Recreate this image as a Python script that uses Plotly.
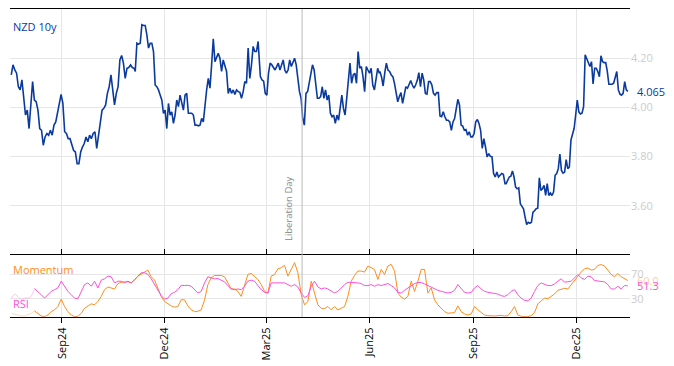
import pandas as pd
import plotly.graph_objects as go

# ---------------- data ----------------
# NZD 10y yield in five consecutive stretches
nzd_seg1 = [4.132,4.173,4.152,4.139,4.084,4.071,4.112,4.050,3.969,3.989,
            3.914,4.010,4.105,4.030,4.023,3.989,3.914,3.907,3.846,3.880,
            3.894,3.887,3.907,3.887,3.928,3.941,3.982,4.010,4.053,4.016,
            3.901,3.894,3.873,3.873,3.853,3.826,3.819,3.771,3.771,3.819,
            3.839,3.853,3.880,3.860,3.887,3.873,3.894,3.901,3.833,3.880,
            3.935,3.989,3.996,4.010,4.057,4.084,4.132,4.078,4.010,4.057,
            4.084,4.193,4.211,4.180,4.118,4.159,4.162,4.173,4.162,4.159]
nzd_seg2 = [4.146,4.261,4.257,4.261,4.336,4.333,4.333,4.295,4.241,4.261,
            4.261,4.227,4.091,4.084,4.071,4.050,4.030,3.976,3.989,3.914,
            4.016,3.969,3.982,3.935,3.969,4.030,4.003,4.050,4.023,3.989,
            4.050,4.057,3.976,3.976,3.976,3.969,3.928,3.928,3.925,3.928,3.955,
            3.941,4.023,4.071,4.118,4.078,4.173,4.279,4.186,4.200,4.220,
            4.200,4.146,4.193,4.173,4.146,4.057,4.078,4.057,4.071,4.053,
            4.071,4.064,4.061,4.037,4.064,4.105,4.098,4.241,4.118,4.173,
            4.248,4.227,4.227,4.268]
nzd_seg3 = [4.125,4.112,4.107,4.057,4.050,4.139,4.180,4.173,4.159,4.152,
            4.166,4.180,4.152,4.173,4.193,4.152,4.139,4.152,4.193,4.166,
            4.186,4.200,4.173,4.112,4.064,4.037,3.955,3.928,4.057,4.064,
            4.098,4.132,4.173,4.152,4.091,4.037,4.037,4.044,4.084,4.037,
            4.071,4.030,4.050,3.976,3.962,3.969,3.935,3.969,3.948,4.010,
            4.050,3.996,3.969,4.037,4.098,4.180,4.098,4.132,4.139,4.098,
            4.227,4.159,4.166,4.125,4.064,4.166,4.152,4.139,4.159,4.091,
            4.071,4.112,4.159,4.139]
nzd_seg4 = [4.146,4.125,4.087,4.139,4.180,4.152,4.146,4.132,4.125,4.098,
            4.050,4.023,4.044,4.060,4.016,4.044,4.084,4.078,4.098,4.109,
            4.091,4.078,4.091,4.109,4.141,4.084,4.139,4.112,4.057,4.054,
            4.105,4.105,4.091,4.057,4.050,4.060,4.060,3.965,3.962,3.982,
            3.962,3.948,3.948,3.941,3.907,3.941,3.955,4.003,4.033,4.010,
            3.928,3.924,3.907,3.910,3.887,3.901,3.880,3.880,3.894,3.941,
            3.951,3.935,3.907,3.833,3.873,3.839,3.799,3.812,3.801,3.799,
            3.731,3.717,3.737,3.717,3.724,3.731,3.728,3.690]
nzd_seg5 = [3.690,3.703,3.717,3.720,3.742,3.717,3.676,3.669,3.673,3.608,
            3.595,3.588,3.554,3.524,3.533,3.529,3.533,3.574,3.580,3.588,
            3.590,3.714,3.663,3.669,3.683,3.642,3.690,3.642,3.652,3.642,
            3.656,3.724,3.731,3.751,3.810,3.744,3.733,3.737,3.788,3.751,
            3.758,3.867,3.891,3.914,3.969,4.030,3.982,3.973,3.976,4.003,
            4.214,4.200,4.182,4.166,4.186,4.095,4.159,4.159,4.146,4.125,
            4.210,4.186,4.182,4.182,4.146,4.094,4.094,4.094,4.098,4.118,
            4.146,4.071,4.054,4.050,4.057,4.105,4.071,4.065]
nzd_segments = [nzd_seg1, nzd_seg2, nzd_seg3, nzd_seg4, nzd_seg5]
seg_starts = ["2024-07-18", "2024-11-05", "2025-02-24", "2025-06-10", "2025-09-30"]
seg_ends = ["2024-11-04", "2025-02-22", "2025-06-09 12:00", "2025-09-29", "2026-01-16"]

# Indicators (0-100 scale), evenly spaced over the same period
ind_start, ind_end = "2024-07-18", "2026-01-16"
warmup_points = 8
rsi = [31.1,37.8,33.9,28.3,31.1,31.1,33.9,
       46.7,42.2,36.7,31.1,36.7,42.2,45.0,47.8,58.9,50.6,
       42.2,36.7,31.1,30.0,42.2,53.3,56.1,50.6,58.9,47.8,
       60.6,62.8,67.2,66.1,56.1,58.9,58.9,56.1,58.9,56.1,
       61.7,67.2,72.8,72.8,70.0,62.8,53.3,43.9,35.0,29.4,
       31.1,38.3,40.6,45.0,52.2,51.7,52.2,50.6,45.0,39.4,
       42.2,56.1,66.1,64.4,62.8,63.3,60.6,57.8,51.7,46.1,
       45.0,46.1,45.0,50.6,58.9,
       60.6,58.9,51.7,45.0,40.6,39.4,56.1,56.1,56.1,56.1,
       56.1,53.3,50.6,53.3,49.4,39.4,32.2,35.0,50.6,58.9,
       49.4,46.1,47.8,46.1,42.2,39.4,42.2,47.8,53.3,57.2,
       57.2,56.1,56.1,55.0,51.7,51.7,53.3,50.6,53.3,51.7,
       53.3,55.0,51.7,47.8,40.6,39.4,43.9,47.8,51.7,55.0,
       56.7,56.7,54.4,51.7,49.4,46.1,43.9,42.2,40.6,39.4,
       40.6,43.9,53.3,46.1,40.6,39.4,40.6,47.8,51.7,
       46.1,42.2,40.6,39.4,39.4,37.8,35.0,33.9,36.7,42.2,
       45.0,36.7,31.1,27.2,26.7,31.1,42.2,51.7,56.1,54.4,
       51.7,51.7,54.4,58.9,62.8,57.2,57.8,58.9,64.4,70.0,
       64.4,61.7,67.2,66.1,60.0,58.9,58.9,57.8,53.3,46.1,
       46.1,50.6,46.1,51.7,51.3]
momentum = [6.1,4.4,3.3,1.7,1.7,3.3,6.1,
            10.0,6.1,1.7,0.6,3.3,8.9,11.7,17.2,29.4,17.2,
            8.9,3.3,0.6,1.1,6.1,14.4,18.3,21.7,20.0,25.6,
            33.9,45.0,49.4,47.8,46.1,55.0,57.2,57.8,57.8,56.1,
            60.6,67.2,70.0,73.9,77.2,66.1,60.6,47.8,33.9,25.6,
            21.7,18.3,16.1,17.2,28.3,28.3,18.3,11.7,8.9,9.4,
            11.7,28.3,53.3,64.4,68.3,68.3,68.3,66.1,56.1,46.1,
            46.1,42.2,33.9,53.3,70.0,
            71.7,67.2,61.7,53.3,42.2,39.4,67.2,70.0,79.4,81.1,
            85.0,67.2,78.3,89.4,72.8,36.7,20.0,25.6,58.9,39.4,
            20.0,14.4,13.9,17.2,11.7,17.2,11.7,14.4,17.2,33.9,
            58.9,68.3,75.6,75.6,73.9,83.9,81.1,78.3,61.7,78.3,
            70.0,83.9,86.7,75.6,39.4,32.8,29.4,33.9,58.9,42.2,
            58.9,78.3,78.3,39.4,47.8,28.3,20.0,14.4,8.9,6.1,
            6.1,7.2,18.3,8.9,5.0,3.3,5.0,17.2,11.7,
            7.2,3.3,2.2,1.7,1.7,2.2,2.8,1.7,2.2,8.9,
            17.2,3.3,1.1,0.6,0.6,2.2,7.2,21.7,26.7,31.1,
            30.0,33.9,37.8,43.9,45.0,47.2,46.1,53.3,60.6,66.1,
            73.9,79.4,80.6,77.2,78.3,85.0,86.1,83.9,77.2,70.0,
            66.1,71.7,66.1,62.8,60.0]

tick_dates = ["2024-09-01", "2024-12-01", "2025-03-01", "2025-06-01", "2025-09-01", "2025-12-01"]
main_ticks = [3.6, 3.8, 4.0, 4.2]
ind_ticks = [30, 70]
event_date = "2025-04-02"
event_label = "Liberation Day"
x_range = ["2024-07-16 21:36", "2026-01-17 21:36"]

# ---------------- build ----------------
nzd_dates, nzd = [], []
for vals, s, e in zip(nzd_segments, seg_starts, seg_ends):
    nzd_dates.extend(pd.date_range(s, e, periods=len(vals)))
    nzd.extend(vals)
ind_dates = pd.date_range(ind_start, ind_end, periods=len(rsi))

BLUE = "#0b3a9f"
ORANGE = "#ff8c1a"
MAGENTA = "#ff4fd8"
GRID = "#e6e6e6"
TICKGREY = "#cccccc"
FONT = "Open Sans"

fig = go.Figure()
fig.add_trace(go.Scatter(x=nzd_dates, y=nzd, mode="lines",
                         line=dict(color=BLUE, width=1.6),
                         xaxis="x", yaxis="y", showlegend=False, hoverinfo="skip"))
w = warmup_points
for series, col in [(momentum, ORANGE), (rsi, MAGENTA)]:
    fig.add_trace(go.Scatter(x=ind_dates[:w], y=series[:w], mode="lines",
                             line=dict(color=col, width=1), opacity=0.3,
                             xaxis="x2", yaxis="y2", showlegend=False, hoverinfo="skip"))
    fig.add_trace(go.Scatter(x=ind_dates[w - 1:], y=series[w - 1:], mode="lines",
                             line=dict(color=col, width=1),
                             xaxis="x2", yaxis="y2", showlegend=False, hoverinfo="skip"))

split = 62 / 308
fig.update_layout(
    width=666, height=358,
    margin=dict(l=2, r=44, t=1, b=49, autoexpand=False),
    paper_bgcolor="white", plot_bgcolor="white",
    font=dict(family=FONT, size=11, color="black"),
    xaxis=dict(domain=[0, 1], anchor="y", side="top", range=x_range,
               showline=True, linecolor="black", linewidth=1,
               showticklabels=False, ticks="", tickvals=tick_dates,
               showgrid=True, gridcolor=GRID, zeroline=False),
    yaxis=dict(domain=[split, 1], anchor="x", side="right", range=[3.4, 4.4],
               tickvals=main_ticks, ticktext=[f"{v:.2f}" for v in main_ticks],
               tickfont=dict(color=TICKGREY, size=11, family=FONT),
               showgrid=True, gridcolor=GRID, zeroline=False, showline=False, ticks=""),
    xaxis2=dict(domain=[0, 1], anchor="y2", range=x_range,
                showline=True, mirror="ticks", linecolor="black", linewidth=1,
                ticks="outside", ticklen=5, tickcolor="black", tickwidth=1,
                tickvals=tick_dates, tickformat="%b%y", tickangle=-90,
                tickfont=dict(size=11, color="black", family=FONT),
                showgrid=True, gridcolor=GRID, zeroline=False),
    yaxis2=dict(domain=[0, split], anchor="x2", side="right", range=[0, 102],
                tickvals=ind_ticks, tickfont=dict(color=TICKGREY, size=11, family=FONT),
                showgrid=True, gridcolor=GRID, zeroline=False, showline=False, ticks=""),
)

fig.add_shape(type="line", xref="x", yref="paper", x0=event_date, x1=event_date,
              y0=0, y1=1, line=dict(color="#bbbbbb", width=1))
fig.add_annotation(x=event_date, xref="x", y=(317 - 243) / 308, yref="paper",
                   text=event_label, textangle=-90, showarrow=False,
                   xanchor="right", yanchor="bottom", xshift=-5,
                   font=dict(size=9.5, color="#888888", family=FONT))

fig.add_annotation(x=0, xref="paper", y=1, yref="paper", text="NZD 10y",
                   showarrow=False, xanchor="left", yanchor="top", xshift=1, yshift=-8,
                   font=dict(size=11, color=BLUE, family=FONT))
fig.add_annotation(x=0, xref="paper", y=split, yref="paper", text="Momentum",
                   showarrow=False, xanchor="left", yanchor="top", xshift=1, yshift=-5,
                   font=dict(size=11, color=ORANGE, family=FONT))
fig.add_annotation(x=0, xref="paper", y=0, yref="paper", text="RSI",
                   showarrow=False, xanchor="left", yanchor="bottom", xshift=1, yshift=4,
                   font=dict(size=11, color=MAGENTA, family=FONT))

fig.add_annotation(x=1, xref="paper", y=nzd[-1], yref="y", text=f"{nzd[-1]:.3f}",
                   showarrow=False, xanchor="left", yanchor="middle", xshift=5,
                   font=dict(size=11, color=BLUE, family=FONT))
fig.add_annotation(x=1, xref="paper", y=momentum[-1], yref="y2", text=f"{momentum[-1]:.1f}",
                   showarrow=False, xanchor="left", yanchor="middle", xshift=5,
                   font=dict(size=11, color="rgba(255,140,26,0.45)", family=FONT))
fig.add_annotation(x=1, xref="paper", y=rsi[-1], yref="y2", text=f"{rsi[-1]:.1f}",
                   showarrow=False, xanchor="left", yanchor="middle", xshift=5,
                   font=dict(size=11, color=MAGENTA, family=FONT))

fig.write_html("out.html", config={"displayModeBar": False})
